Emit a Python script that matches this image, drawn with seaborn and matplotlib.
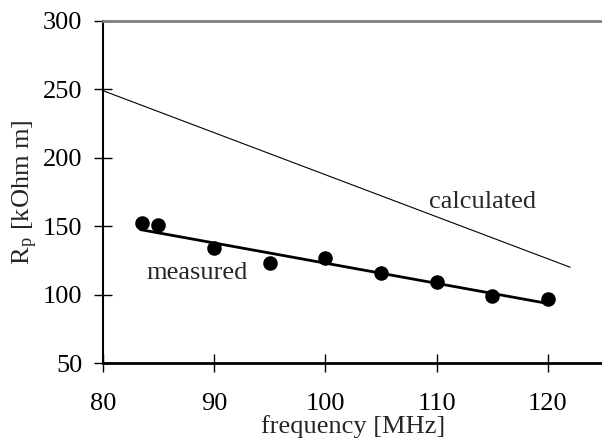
import matplotlib
matplotlib.use("Agg")
import matplotlib.pyplot as plt
import seaborn as sns
import pandas as pd

# measured points
freq_meas = [83.5, 85, 90, 95, 100, 105, 110, 115, 120]
rp_meas = [152, 151, 134, 123, 126.5, 115.5, 109.5, 99, 97]

# fitted line through measured data
freq_fit = [83.4, 120]
rp_fit = [147.5, 93.5]

# calculated curve
freq_calc = [79.4, 122]
rp_calc = [251, 120]

x_ticks = [80, 90, 100, 110, 120]
y_ticks = [50, 100, 150, 200, 250, 300]

sns.set_style("white")
plt.rcParams['font.family'] = ['Liberation Serif', 'DejaVu Serif']
plt.rcParams['mathtext.fontset'] = 'stix'

fig = plt.figure(figsize=(6.02, 4.42), dpi=100)
ax = fig.add_axes([0.1706, 0.1787, 0.832, 0.7738])

df_meas = pd.DataFrame({'f': freq_meas, 'r': rp_meas})
df_fit = pd.DataFrame({'f': freq_fit, 'r': rp_fit})
df_calc = pd.DataFrame({'f': freq_calc, 'r': rp_calc})

sns.lineplot(data=df_calc, x='f', y='r', color='black', linewidth=0.8, ax=ax)
sns.lineplot(data=df_fit, x='f', y='r', color='black', linewidth=2.0, ax=ax)
sns.scatterplot(data=df_meas, x='f', y='r', color='black', s=110,
                edgecolor='black', linewidth=0, ax=ax, zorder=5)

ax.set_xlim(80, 125)
ax.set_ylim(50, 300)
ax.set_xticks(x_ticks)
ax.set_yticks(y_ticks)
ax.tick_params(direction='inout', length=13, width=1, labelsize=19,
               colors='black', bottom=True, left=True, top=False, right=False)
ax.tick_params(axis='y', pad=8)
ax.tick_params(axis='x', pad=15)

for side in ['left', 'bottom', 'top']:
    ax.spines[side].set_visible(True)
ax.spines['right'].set_visible(False)
ax.spines['left'].set_color('black')
ax.spines['left'].set_linewidth(1.5)
ax.spines['bottom'].set_color('black')
ax.spines['bottom'].set_linewidth(2.0)
ax.spines['top'].set_color('gray')
ax.spines['top'].set_linewidth(2.0)

ax.set_xlabel('frequency [MHz]', fontsize=19, labelpad=0)
ax.set_ylabel(r'R$_\mathregular{p}$ [kOhm m]', fontsize=19, labelpad=2)

ax.text(114.1, 163.3, 'calculated', fontsize=19, ha='center', va='baseline')
ax.text(88.5, 111.4, 'measured', fontsize=19, ha='center', va='baseline')

fig.savefig('out.png', dpi=100)
